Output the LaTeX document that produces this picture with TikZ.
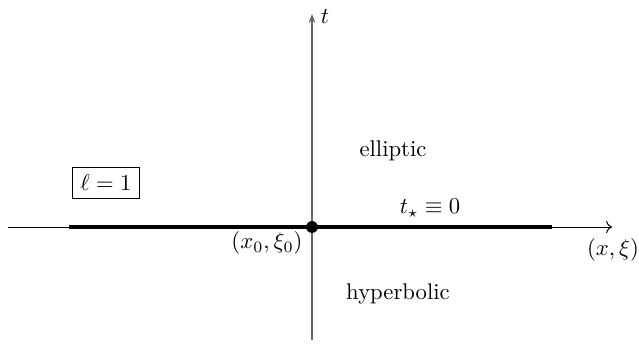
\documentclass[tikz,border=0pt]{standalone}
\usetikzlibrary{arrows.meta}
\begin{document}
\begin{tikzpicture}[x=0.4405pt,y=-0.4405pt,
  axis/.style={line width=0.45pt},
  seg/.style={line width=1.9pt},
  lbl/.style={inner sep=0pt}]
\useasboundingbox (0,0) rectangle (639,345);
\coordinate (xs) at (8,227);
\coordinate (xe) at (612,227);
\coordinate (ts) at (312,340);
\coordinate (te) at (312,14);
\coordinate (ss) at (69,227);
\coordinate (se) at (552,227);
\draw[axis,->] (xs) -- (xe);
\draw[axis,black!60,-{Stealth[length=4pt,width=3pt]}] (ts) -- (te);
\draw[seg] (ss) -- (se);
\node[circle,fill=black,inner sep=0pt,minimum size=5.2pt] (p) at (312,227) {};
\node[lbl] (tl) at (325,17) {$t$};
\node[lbl] (p0) at (267,243) {$(x_0,\xi_0)$};
\node[lbl] (xl) at (613,250) {$(x,\xi)$};
\node[lbl] (ts0) at (430,208) {$t_\star\equiv 0$};
\node[lbl] (el) at (393,151) {elliptic};
\node[lbl] (hy) at (398,294) {hyperbolic};
\node[draw,line width=0.4pt] (l1) at (106,183) {$\ell=1$};
\end{tikzpicture}
\end{document}
